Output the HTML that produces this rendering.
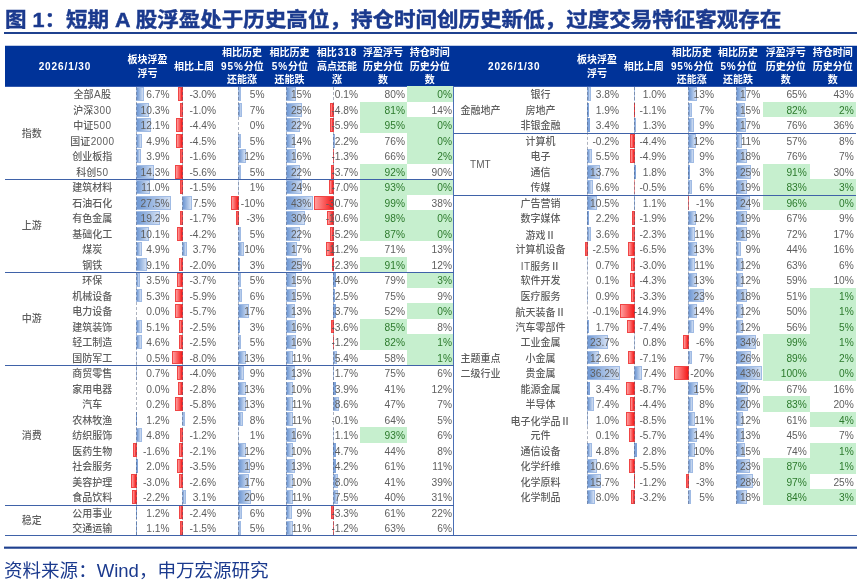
<!DOCTYPE html>
<html lang="zh-CN">
<head>
<meta charset="utf-8">
<title>图 1：短期 A 股浮盈处于历史高位</title>
<style>
html,body{margin:0;padding:0;background:#fff;}
body{width:864px;height:582px;position:relative;overflow:hidden;font-family:"Liberation Sans","Noto Sans CJK SC",sans-serif;}
#title{position:absolute;left:5px;top:4.9px;white-space:nowrap;font-size:20.2px;line-height:30px;font-weight:bold;color:#1b3a8e;-webkit-text-stroke:0.45px #1b3a8e;transform:scaleX(1.066);transform-origin:0 0;}
#tline{position:absolute;left:4px;top:32px;width:853.2px;height:1.8px;background:#1f418f;}
#hdr{position:absolute;left:5px;top:46px;width:852px;height:40px;background:#003399;border-bottom:1px solid #3359ad;border-top:1px solid #bfcce6;margin-top:-1px;}
.h{position:absolute;width:80px;text-align:center;color:#fff;font-weight:bold;font-size:10px;line-height:13.7px;white-space:nowrap;}
.h .d{letter-spacing:0.9px;margin-left:0.9px;}
.n .d{letter-spacing:0.35px;margin-left:0.35px;}
.n .r{font-family:"Noto Sans CJK SC",sans-serif;}
.v{position:absolute;width:60px;height:15.49px;line-height:17.7px;text-align:right;font-size:10.2px;color:#5e5e5e;white-space:nowrap;}
.gt{color:#2c7a2c;}
.n{position:absolute;width:80px;height:15.49px;line-height:17.5px;text-align:center;font-size:10px;color:#5e5e5e;white-space:nowrap;font-weight:500;}
.g{position:absolute;width:60px;text-align:center;font-size:10px;color:#5e5e5e;white-space:nowrap;font-weight:500;}
i{position:absolute;display:block;}
.bp{height:13.9px;box-sizing:border-box;border:1px solid #a0bbe4;background:linear-gradient(to right,#6f98d3,#d2dff3);}
.bn{height:13.9px;box-sizing:border-box;border:1px solid #f04545;background:linear-gradient(to left,#f51b1b,#ff9c9c);}
.bs{height:13.9px;background:#7fa3d9;}
.bt{height:13.9px;background:#f04040;}
.ax{width:0;border-left:1px dashed rgba(50,62,92,0.4);z-index:2;}
.gr{height:15.49px;background:#c6efce;}
.hl{height:1px;background:#3f62a8;z-index:3;}
#vl{position:absolute;left:453.2px;top:86px;width:1px;height:449.6px;background:#4a6fb5;}
#bl{position:absolute;left:4.5px;top:535.1px;width:852px;height:1px;background:#3f62a8;}
#fline{position:absolute;left:4px;top:546px;width:853px;height:3px;background:linear-gradient(to bottom,rgba(31,65,143,0.4) 0,rgba(31,65,143,0.4) 1px,#1f418f 1px,#1f418f 2px,rgba(31,65,143,0.75) 2px);}
#foot{position:absolute;left:4.2px;top:556.5px;white-space:nowrap;font-size:17.9px;line-height:28px;color:#1b3a8e;transform:scaleX(1.036);transform-origin:0 0;}
</style>
</head>
<body>
<div id="title">图 1：短期 A 股浮盈处于历史高位，持仓时间创历史新低，过度交易特征客观存在</div>
<div id="tline"></div>
<div id="hdr"></div>
<div class="h" style="left:24.5px;top:59.65px"><span class="d">2026/1/30</span></div>
<div class="h" style="left:107.5px;top:52.8px">板块浮盈<br>浮亏</div>
<div class="h" style="left:154px;top:59.65px">相比上周</div>
<div class="h" style="left:202px;top:45.95px">相比历史<br><span class="d">95%</span>分位<br>还能涨</div>
<div class="h" style="left:249.5px;top:45.95px">相比历史<br><span class="d">5%</span>分位<br>还能跌</div>
<div class="h" style="left:297px;top:45.95px">相比<span class="d">318</span><br>高点还能<br>涨</div>
<div class="h" style="left:343px;top:45.95px">浮盈浮亏<br>历史分位<br>数</div>
<div class="h" style="left:389.7px;top:45.95px">持仓时间<br>历史分位<br>数</div>
<div class="h" style="left:473.8px;top:59.65px"><span class="d">2026/1/30</span></div>
<div class="h" style="left:557px;top:52.8px">板块浮盈<br>浮亏</div>
<div class="h" style="left:603.8px;top:59.65px">相比上周</div>
<div class="h" style="left:651.8px;top:45.95px">相比历史<br><span class="d">95%</span>分位<br>还能涨</div>
<div class="h" style="left:698.1px;top:45.95px">相比历史<br><span class="d">5%</span>分位<br>还能跌</div>
<div class="h" style="left:745.8px;top:45.95px">浮盈浮亏<br>历史分位<br>数</div>
<div class="h" style="left:792.8px;top:45.95px">持仓时间<br>历史分位<br>数</div>
<i class="ax" style="left:136px;top:86.9px;height:448.21px"></i>
<i class="ax" style="left:182px;top:86.9px;height:448.21px"></i>
<i class="ax" style="left:238px;top:86.9px;height:448.21px"></i>
<i class="ax" style="left:286px;top:86.9px;height:448.21px"></i>
<i class="ax" style="left:333px;top:86.9px;height:448.21px"></i>
<div class="g" style="left:1.7px;top:87.5px;height:92.94px;line-height:92.94px">指数</div>
<div class="n" style="left:52.3px;top:86.4px">全部<span class="d">A</span>股</div>
<i class="gr" style="left:407px;top:86.4px;width:46.4px"></i>
<i class="bp" style="left:135.6px;top:87.2px;width:8.64px"></i>
<i class="bn" style="left:178.04px;top:87.2px;width:4.96px"></i>
<i class="bp" style="left:237.8px;top:87.2px;width:3.3px"></i>
<i class="bp" style="left:286.4px;top:87.2px;width:9.45px"></i>
<div class="v" style="left:109.5px;top:86.4px">6.7%</div>
<div class="v" style="left:156px;top:86.4px">-3.0%</div>
<div class="v" style="left:204.6px;top:86.4px">5%</div>
<div class="v" style="left:251.3px;top:86.4px">15%</div>
<div class="v" style="left:298px;top:86.4px">0.1%</div>
<div class="v" style="left:345px;top:86.4px">80%</div>
<div class="v gt" style="left:392px;top:86.4px">0%</div>
<div class="n" style="left:52.3px;top:101.89px">沪深<span class="d">300</span></div>
<i class="gr" style="left:360.2px;top:101.89px;width:46.8px"></i>
<i class="bp" style="left:135.6px;top:102.69px;width:13.29px"></i>
<i class="bn" style="left:180.48px;top:102.69px;width:2.52px"></i>
<i class="bp" style="left:237.8px;top:102.69px;width:4.62px"></i>
<i class="bp" style="left:286.4px;top:102.69px;width:15.75px"></i>
<i class="bn" style="left:330.38px;top:102.69px;width:3.62px"></i>
<div class="v" style="left:109.5px;top:101.89px">10.3%</div>
<div class="v" style="left:156px;top:101.89px">-1.0%</div>
<div class="v" style="left:204.6px;top:101.89px">7%</div>
<div class="v" style="left:251.3px;top:101.89px">25%</div>
<div class="v" style="left:298px;top:101.89px">-4.8%</div>
<div class="v gt" style="left:345px;top:101.89px">81%</div>
<div class="v" style="left:392px;top:101.89px">14%</div>
<div class="n" style="left:52.3px;top:117.38px">中证<span class="d">500</span></div>
<i class="gr" style="left:360.2px;top:117.38px;width:46.8px"></i>
<i class="gr" style="left:407px;top:117.38px;width:46.4px"></i>
<i class="bp" style="left:135.6px;top:118.18px;width:15.61px"></i>
<i class="bn" style="left:176.33px;top:118.18px;width:6.67px"></i>
<i class="bp" style="left:286.4px;top:118.18px;width:13.86px"></i>
<i class="bn" style="left:329.68px;top:118.18px;width:4.32px"></i>
<div class="v" style="left:109.5px;top:117.38px">12.1%</div>
<div class="v" style="left:156px;top:117.38px">-4.4%</div>
<div class="v" style="left:204.6px;top:117.38px">0%</div>
<div class="v" style="left:251.3px;top:117.38px">22%</div>
<div class="v" style="left:298px;top:117.38px">-5.9%</div>
<div class="v gt" style="left:345px;top:117.38px">95%</div>
<div class="v gt" style="left:392px;top:117.38px">0%</div>
<div class="n" style="left:52.3px;top:132.87px">国证<span class="d">2000</span></div>
<i class="gr" style="left:407px;top:132.87px;width:46.4px"></i>
<i class="bp" style="left:135.6px;top:133.67px;width:6.32px"></i>
<i class="bn" style="left:176.21px;top:133.67px;width:6.79px"></i>
<i class="bp" style="left:237.8px;top:133.67px;width:3.3px"></i>
<i class="bp" style="left:286.4px;top:133.67px;width:8.82px"></i>
<i class="bs" style="left:333.4px;top:133.67px;width:1.36px;opacity:0.85"></i>
<div class="v" style="left:109.5px;top:132.87px">4.9%</div>
<div class="v" style="left:156px;top:132.87px">-4.5%</div>
<div class="v" style="left:204.6px;top:132.87px">5%</div>
<div class="v" style="left:251.3px;top:132.87px">14%</div>
<div class="v" style="left:298px;top:132.87px">2.2%</div>
<div class="v" style="left:345px;top:132.87px">76%</div>
<div class="v gt" style="left:392px;top:132.87px">0%</div>
<div class="n" style="left:52.3px;top:148.36px">创业板指</div>
<i class="gr" style="left:407px;top:148.36px;width:46.4px"></i>
<i class="bp" style="left:135.6px;top:149.16px;width:5.03px"></i>
<i class="bn" style="left:179.75px;top:149.16px;width:3.25px"></i>
<i class="bp" style="left:237.8px;top:149.16px;width:7.92px"></i>
<i class="bp" style="left:286.4px;top:149.16px;width:10.08px"></i>
<i class="bt" style="left:333px;top:149.16px;width:1px;opacity:0.83"></i>
<div class="v" style="left:109.5px;top:148.36px">3.9%</div>
<div class="v" style="left:156px;top:148.36px">-1.6%</div>
<div class="v" style="left:204.6px;top:148.36px">12%</div>
<div class="v" style="left:251.3px;top:148.36px">16%</div>
<div class="v" style="left:298px;top:148.36px">-1.3%</div>
<div class="v" style="left:345px;top:148.36px">66%</div>
<div class="v gt" style="left:392px;top:148.36px">2%</div>
<div class="n" style="left:52.3px;top:163.85px">科创<span class="d">50</span></div>
<i class="gr" style="left:360.2px;top:163.85px;width:46.8px"></i>
<i class="bp" style="left:135.6px;top:164.65px;width:18.45px"></i>
<i class="bn" style="left:174.87px;top:164.65px;width:8.13px"></i>
<i class="bp" style="left:237.8px;top:164.65px;width:3.3px"></i>
<i class="bp" style="left:286.4px;top:164.65px;width:13.86px"></i>
<i class="bn" style="left:331.07px;top:164.65px;width:2.93px"></i>
<div class="v" style="left:109.5px;top:163.85px">14.3%</div>
<div class="v" style="left:156px;top:163.85px">-5.6%</div>
<div class="v" style="left:204.6px;top:163.85px">5%</div>
<div class="v" style="left:251.3px;top:163.85px">22%</div>
<div class="v" style="left:298px;top:163.85px">-3.7%</div>
<div class="v gt" style="left:345px;top:163.85px">92%</div>
<div class="v" style="left:392px;top:163.85px">90%</div>
<i class="hl" style="left:4.5px;top:179.34px;width:449.2px"></i>
<div class="g" style="left:1.7px;top:180.44px;height:92.94px;line-height:92.94px">上游</div>
<div class="n" style="left:52.3px;top:179.34px">建筑材料</div>
<i class="gr" style="left:360.2px;top:179.34px;width:46.8px"></i>
<i class="gr" style="left:407px;top:179.34px;width:46.4px"></i>
<i class="bp" style="left:135.6px;top:180.14px;width:14.19px"></i>
<i class="bn" style="left:179.87px;top:180.14px;width:3.13px"></i>
<i class="bs" style="left:237.8px;top:180.14px;width:1px;opacity:0.41"></i>
<i class="bp" style="left:286.4px;top:180.14px;width:15.12px"></i>
<i class="bn" style="left:328.99px;top:180.14px;width:5.01px"></i>
<div class="v" style="left:109.5px;top:179.34px">11.0%</div>
<div class="v" style="left:156px;top:179.34px">-1.5%</div>
<div class="v" style="left:204.6px;top:179.34px">1%</div>
<div class="v" style="left:251.3px;top:179.34px">24%</div>
<div class="v" style="left:298px;top:179.34px">-7.0%</div>
<div class="v gt" style="left:345px;top:179.34px">93%</div>
<div class="v gt" style="left:392px;top:179.34px">0%</div>
<div class="n" style="left:52.3px;top:194.83px">石油石化</div>
<i class="gr" style="left:360.2px;top:194.83px;width:46.8px"></i>
<i class="bp" style="left:135.6px;top:195.63px;width:35.48px"></i>
<i class="bp" style="left:181.7px;top:195.63px;width:10.5px"></i>
<i class="bn" style="left:231px;top:195.63px;width:8px"></i>
<i class="bp" style="left:286.4px;top:195.63px;width:27.09px"></i>
<i class="bn" style="left:314.06px;top:195.63px;width:19.94px"></i>
<div class="v" style="left:109.5px;top:194.83px">27.5%</div>
<div class="v" style="left:156px;top:194.83px">7.5%</div>
<div class="v" style="left:204.6px;top:194.83px">-10%</div>
<div class="v" style="left:251.3px;top:194.83px">43%</div>
<div class="v" style="left:298px;top:194.83px">-30.7%</div>
<div class="v gt" style="left:345px;top:194.83px">99%</div>
<div class="v" style="left:392px;top:194.83px">38%</div>
<div class="n" style="left:52.3px;top:210.32px">有色金属</div>
<i class="gr" style="left:360.2px;top:210.32px;width:46.8px"></i>
<i class="gr" style="left:407px;top:210.32px;width:46.4px"></i>
<i class="bp" style="left:135.6px;top:211.12px;width:24.77px"></i>
<i class="bn" style="left:179.63px;top:211.12px;width:3.37px"></i>
<i class="bn" style="left:235.76px;top:211.12px;width:3.24px"></i>
<i class="bp" style="left:286.4px;top:211.12px;width:18.9px"></i>
<i class="bn" style="left:326.72px;top:211.12px;width:7.28px"></i>
<div class="v" style="left:109.5px;top:210.32px">19.2%</div>
<div class="v" style="left:156px;top:210.32px">-1.7%</div>
<div class="v" style="left:204.6px;top:210.32px">-3%</div>
<div class="v" style="left:251.3px;top:210.32px">30%</div>
<div class="v" style="left:298px;top:210.32px">-10.6%</div>
<div class="v gt" style="left:345px;top:210.32px">98%</div>
<div class="v gt" style="left:392px;top:210.32px">0%</div>
<div class="n" style="left:52.3px;top:225.81px">基础化工</div>
<i class="gr" style="left:360.2px;top:225.81px;width:46.8px"></i>
<i class="gr" style="left:407px;top:225.81px;width:46.4px"></i>
<i class="bp" style="left:135.6px;top:226.61px;width:13.03px"></i>
<i class="bn" style="left:176.58px;top:226.61px;width:6.42px"></i>
<i class="bp" style="left:237.8px;top:226.61px;width:3.3px"></i>
<i class="bp" style="left:286.4px;top:226.61px;width:13.86px"></i>
<i class="bn" style="left:330.12px;top:226.61px;width:3.88px"></i>
<div class="v" style="left:109.5px;top:225.81px">10.1%</div>
<div class="v" style="left:156px;top:225.81px">-4.2%</div>
<div class="v" style="left:204.6px;top:225.81px">5%</div>
<div class="v" style="left:251.3px;top:225.81px">22%</div>
<div class="v" style="left:298px;top:225.81px">-5.2%</div>
<div class="v gt" style="left:345px;top:225.81px">87%</div>
<div class="v gt" style="left:392px;top:225.81px">0%</div>
<div class="n" style="left:52.3px;top:241.3px">煤炭</div>
<i class="bp" style="left:135.6px;top:242.1px;width:6.32px"></i>
<i class="bp" style="left:181.7px;top:242.1px;width:5.18px"></i>
<i class="bp" style="left:237.8px;top:242.1px;width:6.6px"></i>
<i class="bp" style="left:286.4px;top:242.1px;width:10.71px"></i>
<i class="bn" style="left:326.34px;top:242.1px;width:7.66px"></i>
<div class="v" style="left:109.5px;top:241.3px">4.9%</div>
<div class="v" style="left:156px;top:241.3px">3.7%</div>
<div class="v" style="left:204.6px;top:241.3px">10%</div>
<div class="v" style="left:251.3px;top:241.3px">17%</div>
<div class="v" style="left:298px;top:241.3px">-11.2%</div>
<div class="v" style="left:345px;top:241.3px">71%</div>
<div class="v" style="left:392px;top:241.3px">13%</div>
<div class="n" style="left:52.3px;top:256.79px">钢铁</div>
<i class="gr" style="left:360.2px;top:256.79px;width:46.8px"></i>
<i class="bp" style="left:135.6px;top:257.59px;width:11.74px"></i>
<i class="bn" style="left:179.26px;top:257.59px;width:3.74px"></i>
<i class="bs" style="left:237.8px;top:257.59px;width:1.98px;opacity:1.00"></i>
<i class="bp" style="left:286.4px;top:257.59px;width:15.75px"></i>
<i class="bn" style="left:331.95px;top:257.59px;width:2.05px"></i>
<div class="v" style="left:109.5px;top:256.79px">9.1%</div>
<div class="v" style="left:156px;top:256.79px">-2.0%</div>
<div class="v" style="left:204.6px;top:256.79px">3%</div>
<div class="v" style="left:251.3px;top:256.79px">25%</div>
<div class="v" style="left:298px;top:256.79px">-2.3%</div>
<div class="v gt" style="left:345px;top:256.79px">91%</div>
<div class="v" style="left:392px;top:256.79px">12%</div>
<i class="hl" style="left:4.5px;top:272.28px;width:449.2px"></i>
<div class="g" style="left:1.7px;top:273.38px;height:92.94px;line-height:92.94px">中游</div>
<div class="n" style="left:52.3px;top:272.28px">环保</div>
<i class="gr" style="left:407px;top:272.28px;width:46.4px"></i>
<i class="bp" style="left:135.6px;top:273.08px;width:4.52px"></i>
<i class="bn" style="left:177.19px;top:273.08px;width:5.81px"></i>
<i class="bp" style="left:237.8px;top:273.08px;width:3.3px"></i>
<i class="bp" style="left:286.4px;top:273.08px;width:9.45px"></i>
<i class="bs" style="left:333.4px;top:273.08px;width:2.48px;opacity:1.00"></i>
<div class="v" style="left:109.5px;top:272.28px">3.5%</div>
<div class="v" style="left:156px;top:272.28px">-3.7%</div>
<div class="v" style="left:204.6px;top:272.28px">5%</div>
<div class="v" style="left:251.3px;top:272.28px">15%</div>
<div class="v" style="left:298px;top:272.28px">4.0%</div>
<div class="v" style="left:345px;top:272.28px">79%</div>
<div class="v gt" style="left:392px;top:272.28px">3%</div>
<div class="n" style="left:52.3px;top:287.77px">机械设备</div>
<i class="bp" style="left:135.6px;top:288.57px;width:6.84px"></i>
<i class="bn" style="left:174.5px;top:288.57px;width:8.5px"></i>
<i class="bp" style="left:237.8px;top:288.57px;width:3.96px"></i>
<i class="bp" style="left:286.4px;top:288.57px;width:9.45px"></i>
<i class="bs" style="left:333.4px;top:288.57px;width:1.55px;opacity:0.97"></i>
<div class="v" style="left:109.5px;top:287.77px">5.3%</div>
<div class="v" style="left:156px;top:287.77px">-5.9%</div>
<div class="v" style="left:204.6px;top:287.77px">6%</div>
<div class="v" style="left:251.3px;top:287.77px">15%</div>
<div class="v" style="left:298px;top:287.77px">2.5%</div>
<div class="v" style="left:345px;top:287.77px">75%</div>
<div class="v" style="left:392px;top:287.77px">9%</div>
<div class="n" style="left:52.3px;top:303.26px">电力设备</div>
<i class="gr" style="left:407px;top:303.26px;width:46.4px"></i>
<i class="bn" style="left:174.75px;top:304.06px;width:8.25px"></i>
<i class="bp" style="left:237.8px;top:304.06px;width:11.22px"></i>
<i class="bp" style="left:286.4px;top:304.06px;width:8.19px"></i>
<i class="bs" style="left:333.4px;top:304.06px;width:2.29px;opacity:1.00"></i>
<div class="v" style="left:109.5px;top:303.26px">0.0%</div>
<div class="v" style="left:156px;top:303.26px">-5.7%</div>
<div class="v" style="left:204.6px;top:303.26px">17%</div>
<div class="v" style="left:251.3px;top:303.26px">13%</div>
<div class="v" style="left:298px;top:303.26px">3.7%</div>
<div class="v" style="left:345px;top:303.26px">52%</div>
<div class="v gt" style="left:392px;top:303.26px">0%</div>
<div class="n" style="left:52.3px;top:318.75px">建筑装饰</div>
<i class="gr" style="left:360.2px;top:318.75px;width:46.8px"></i>
<i class="bp" style="left:135.6px;top:319.55px;width:6.58px"></i>
<i class="bn" style="left:178.65px;top:319.55px;width:4.35px"></i>
<i class="bs" style="left:237.8px;top:319.55px;width:1.98px;opacity:1.00"></i>
<i class="bp" style="left:286.4px;top:319.55px;width:10.08px"></i>
<i class="bn" style="left:331.13px;top:319.55px;width:2.87px"></i>
<div class="v" style="left:109.5px;top:318.75px">5.1%</div>
<div class="v" style="left:156px;top:318.75px">-2.5%</div>
<div class="v" style="left:204.6px;top:318.75px">3%</div>
<div class="v" style="left:251.3px;top:318.75px">16%</div>
<div class="v" style="left:298px;top:318.75px">-3.6%</div>
<div class="v gt" style="left:345px;top:318.75px">85%</div>
<div class="v" style="left:392px;top:318.75px">8%</div>
<div class="n" style="left:52.3px;top:334.24px">轻工制造</div>
<i class="gr" style="left:360.2px;top:334.24px;width:46.8px"></i>
<i class="gr" style="left:407px;top:334.24px;width:46.4px"></i>
<i class="bp" style="left:135.6px;top:335.04px;width:5.93px"></i>
<i class="bn" style="left:178.65px;top:335.04px;width:4.35px"></i>
<i class="bp" style="left:237.8px;top:335.04px;width:3.3px"></i>
<i class="bp" style="left:286.4px;top:335.04px;width:10.08px"></i>
<i class="bt" style="left:333px;top:335.04px;width:1px;opacity:0.78"></i>
<div class="v" style="left:109.5px;top:334.24px">4.6%</div>
<div class="v" style="left:156px;top:334.24px">-2.5%</div>
<div class="v" style="left:204.6px;top:334.24px">5%</div>
<div class="v" style="left:251.3px;top:334.24px">16%</div>
<div class="v" style="left:298px;top:334.24px">-1.2%</div>
<div class="v gt" style="left:345px;top:334.24px">82%</div>
<div class="v gt" style="left:392px;top:334.24px">1%</div>
<div class="n" style="left:52.3px;top:349.73px">国防军工</div>
<i class="gr" style="left:407px;top:349.73px;width:46.4px"></i>
<i class="bs" style="left:135.6px;top:350.53px;width:1px;opacity:0.40"></i>
<i class="bn" style="left:171.94px;top:350.53px;width:11.06px"></i>
<i class="bp" style="left:237.8px;top:350.53px;width:8.58px"></i>
<i class="bp" style="left:286.4px;top:350.53px;width:6.93px"></i>
<i class="bp" style="left:333.4px;top:350.53px;width:3.35px"></i>
<div class="v" style="left:109.5px;top:349.73px">0.5%</div>
<div class="v" style="left:156px;top:349.73px">-8.0%</div>
<div class="v" style="left:204.6px;top:349.73px">13%</div>
<div class="v" style="left:251.3px;top:349.73px">11%</div>
<div class="v" style="left:298px;top:349.73px">5.4%</div>
<div class="v" style="left:345px;top:349.73px">58%</div>
<div class="v gt" style="left:392px;top:349.73px">1%</div>
<i class="hl" style="left:4.5px;top:365.22px;width:449.2px"></i>
<div class="g" style="left:1.7px;top:366.32px;height:139.41px;line-height:139.41px">消费</div>
<div class="n" style="left:52.3px;top:365.22px">商贸零售</div>
<i class="bs" style="left:135.6px;top:366.02px;width:1px;opacity:0.56"></i>
<i class="bn" style="left:176.82px;top:366.02px;width:6.18px"></i>
<i class="bp" style="left:237.8px;top:366.02px;width:5.94px"></i>
<i class="bp" style="left:286.4px;top:366.02px;width:8.19px"></i>
<i class="bs" style="left:333.4px;top:366.02px;width:1.05px;opacity:0.66"></i>
<div class="v" style="left:109.5px;top:365.22px">0.7%</div>
<div class="v" style="left:156px;top:365.22px">-4.0%</div>
<div class="v" style="left:204.6px;top:365.22px">9%</div>
<div class="v" style="left:251.3px;top:365.22px">13%</div>
<div class="v" style="left:298px;top:365.22px">1.7%</div>
<div class="v" style="left:345px;top:365.22px">75%</div>
<div class="v" style="left:392px;top:365.22px">6%</div>
<div class="n" style="left:52.3px;top:380.71px">家用电器</div>
<i class="bn" style="left:178.28px;top:381.51px;width:4.72px"></i>
<i class="bp" style="left:237.8px;top:381.51px;width:8.58px"></i>
<i class="bp" style="left:286.4px;top:381.51px;width:6.3px"></i>
<i class="bs" style="left:333.4px;top:381.51px;width:2.42px;opacity:1.00"></i>
<div class="v" style="left:109.5px;top:380.71px">0.0%</div>
<div class="v" style="left:156px;top:380.71px">-2.8%</div>
<div class="v" style="left:204.6px;top:380.71px">13%</div>
<div class="v" style="left:251.3px;top:380.71px">10%</div>
<div class="v" style="left:298px;top:380.71px">3.9%</div>
<div class="v" style="left:345px;top:380.71px">41%</div>
<div class="v" style="left:392px;top:380.71px">12%</div>
<div class="n" style="left:52.3px;top:396.2px">汽车</div>
<i class="bn" style="left:174.62px;top:397px;width:8.38px"></i>
<i class="bp" style="left:237.8px;top:397px;width:8.58px"></i>
<i class="bp" style="left:286.4px;top:397px;width:6.93px"></i>
<i class="bp" style="left:333.4px;top:397px;width:5.33px"></i>
<div class="v" style="left:109.5px;top:396.2px">0.2%</div>
<div class="v" style="left:156px;top:396.2px">-5.8%</div>
<div class="v" style="left:204.6px;top:396.2px">13%</div>
<div class="v" style="left:251.3px;top:396.2px">11%</div>
<div class="v" style="left:298px;top:396.2px">8.6%</div>
<div class="v" style="left:345px;top:396.2px">47%</div>
<div class="v" style="left:392px;top:396.2px">7%</div>
<div class="n" style="left:52.3px;top:411.69px">农林牧渔</div>
<i class="bs" style="left:135.6px;top:412.49px;width:1.55px;opacity:0.97"></i>
<i class="bp" style="left:181.7px;top:412.49px;width:3.5px"></i>
<i class="bp" style="left:237.8px;top:412.49px;width:5.28px"></i>
<i class="bp" style="left:286.4px;top:412.49px;width:6.93px"></i>
<div class="v" style="left:109.5px;top:411.69px">1.2%</div>
<div class="v" style="left:156px;top:411.69px">2.5%</div>
<div class="v" style="left:204.6px;top:411.69px">8%</div>
<div class="v" style="left:251.3px;top:411.69px">11%</div>
<div class="v" style="left:298px;top:411.69px">-0.1%</div>
<div class="v" style="left:345px;top:411.69px">64%</div>
<div class="v" style="left:392px;top:411.69px">5%</div>
<div class="n" style="left:52.3px;top:427.18px">纺织服饰</div>
<i class="gr" style="left:360.2px;top:427.18px;width:46.8px"></i>
<i class="bp" style="left:135.6px;top:427.98px;width:6.19px"></i>
<i class="bn" style="left:180.24px;top:427.98px;width:2.76px"></i>
<i class="bs" style="left:237.8px;top:427.98px;width:1px;opacity:0.41"></i>
<i class="bp" style="left:286.4px;top:427.98px;width:10.08px"></i>
<i class="bs" style="left:333.4px;top:427.98px;width:1px;opacity:0.43"></i>
<div class="v" style="left:109.5px;top:427.18px">4.8%</div>
<div class="v" style="left:156px;top:427.18px">-1.2%</div>
<div class="v" style="left:204.6px;top:427.18px">1%</div>
<div class="v" style="left:251.3px;top:427.18px">16%</div>
<div class="v" style="left:298px;top:427.18px">1.1%</div>
<div class="v gt" style="left:345px;top:427.18px">93%</div>
<div class="v" style="left:392px;top:427.18px">6%</div>
<div class="n" style="left:52.3px;top:442.67px">医药生物</div>
<i class="bn" style="left:132.88px;top:443.47px;width:4.12px"></i>
<i class="bn" style="left:179.14px;top:443.47px;width:3.86px"></i>
<i class="bp" style="left:237.8px;top:443.47px;width:7.92px"></i>
<i class="bp" style="left:286.4px;top:443.47px;width:6.3px"></i>
<i class="bs" style="left:333.4px;top:443.47px;width:2.91px;opacity:1.00"></i>
<div class="v" style="left:109.5px;top:442.67px">-1.6%</div>
<div class="v" style="left:156px;top:442.67px">-2.1%</div>
<div class="v" style="left:204.6px;top:442.67px">12%</div>
<div class="v" style="left:251.3px;top:442.67px">10%</div>
<div class="v" style="left:298px;top:442.67px">4.7%</div>
<div class="v" style="left:345px;top:442.67px">44%</div>
<div class="v" style="left:392px;top:442.67px">8%</div>
<div class="n" style="left:52.3px;top:458.16px">社会服务</div>
<i class="bs" style="left:135.6px;top:458.96px;width:2.58px;opacity:1.00"></i>
<i class="bn" style="left:177.43px;top:458.96px;width:5.57px"></i>
<i class="bp" style="left:237.8px;top:458.96px;width:12.54px"></i>
<i class="bp" style="left:286.4px;top:458.96px;width:8.19px"></i>
<i class="bs" style="left:333.4px;top:458.96px;width:2.6px;opacity:1.00"></i>
<div class="v" style="left:109.5px;top:458.16px">2.0%</div>
<div class="v" style="left:156px;top:458.16px">-3.5%</div>
<div class="v" style="left:204.6px;top:458.16px">19%</div>
<div class="v" style="left:251.3px;top:458.16px">13%</div>
<div class="v" style="left:298px;top:458.16px">4.2%</div>
<div class="v" style="left:345px;top:458.16px">61%</div>
<div class="v" style="left:392px;top:458.16px">11%</div>
<div class="n" style="left:52.3px;top:473.65px">美容护理</div>
<i class="bn" style="left:130.5px;top:474.45px;width:6.5px"></i>
<i class="bn" style="left:178.53px;top:474.45px;width:4.47px"></i>
<i class="bp" style="left:237.8px;top:474.45px;width:11.22px"></i>
<i class="bp" style="left:286.4px;top:474.45px;width:6.3px"></i>
<i class="bp" style="left:333.4px;top:474.45px;width:4.96px"></i>
<div class="v" style="left:109.5px;top:473.65px">-3.0%</div>
<div class="v" style="left:156px;top:473.65px">-2.6%</div>
<div class="v" style="left:204.6px;top:473.65px">17%</div>
<div class="v" style="left:251.3px;top:473.65px">10%</div>
<div class="v" style="left:298px;top:473.65px">8.0%</div>
<div class="v" style="left:345px;top:473.65px">41%</div>
<div class="v" style="left:392px;top:473.65px">39%</div>
<div class="n" style="left:52.3px;top:489.14px">食品饮料</div>
<i class="bn" style="left:131.86px;top:489.94px;width:5.14px"></i>
<i class="bp" style="left:181.7px;top:489.94px;width:4.34px"></i>
<i class="bp" style="left:237.8px;top:489.94px;width:13.2px"></i>
<i class="bp" style="left:286.4px;top:489.94px;width:6.93px"></i>
<i class="bp" style="left:333.4px;top:489.94px;width:4.65px"></i>
<div class="v" style="left:109.5px;top:489.14px">-2.2%</div>
<div class="v" style="left:156px;top:489.14px">3.1%</div>
<div class="v" style="left:204.6px;top:489.14px">20%</div>
<div class="v" style="left:251.3px;top:489.14px">11%</div>
<div class="v" style="left:298px;top:489.14px">7.5%</div>
<div class="v" style="left:345px;top:489.14px">40%</div>
<div class="v" style="left:392px;top:489.14px">31%</div>
<i class="hl" style="left:4.5px;top:504.63px;width:449.2px"></i>
<div class="g" style="left:1.7px;top:505.73px;height:30.98px;line-height:30.98px">稳定</div>
<div class="n" style="left:52.3px;top:504.63px">公用事业</div>
<i class="bs" style="left:135.6px;top:505.43px;width:1.55px;opacity:0.97"></i>
<i class="bn" style="left:178.77px;top:505.43px;width:4.23px"></i>
<i class="bp" style="left:237.8px;top:505.43px;width:3.96px"></i>
<i class="bp" style="left:286.4px;top:505.43px;width:5.67px"></i>
<i class="bn" style="left:331.32px;top:505.43px;width:2.68px"></i>
<div class="v" style="left:109.5px;top:504.63px">1.2%</div>
<div class="v" style="left:156px;top:504.63px">-2.4%</div>
<div class="v" style="left:204.6px;top:504.63px">6%</div>
<div class="v" style="left:251.3px;top:504.63px">9%</div>
<div class="v" style="left:298px;top:504.63px">-3.3%</div>
<div class="v" style="left:345px;top:504.63px">61%</div>
<div class="v" style="left:392px;top:504.63px">22%</div>
<div class="n" style="left:52.3px;top:520.12px">交通运输</div>
<i class="bs" style="left:135.6px;top:520.92px;width:1.42px;opacity:0.89"></i>
<i class="bn" style="left:179.87px;top:520.92px;width:3.13px"></i>
<i class="bp" style="left:237.8px;top:520.92px;width:3.3px"></i>
<i class="bp" style="left:286.4px;top:520.92px;width:6.93px"></i>
<i class="bt" style="left:333px;top:520.92px;width:1px;opacity:0.78"></i>
<div class="v" style="left:109.5px;top:520.12px">1.1%</div>
<div class="v" style="left:156px;top:520.12px">-1.5%</div>
<div class="v" style="left:204.6px;top:520.12px">5%</div>
<div class="v" style="left:251.3px;top:520.12px">11%</div>
<div class="v" style="left:298px;top:520.12px">-1.2%</div>
<div class="v" style="left:345px;top:520.12px">63%</div>
<div class="v" style="left:392px;top:520.12px">6%</div>
<i class="ax" style="left:587px;top:86.9px;height:417.23px"></i>
<i class="ax" style="left:634px;top:86.9px;height:417.23px"></i>
<i class="ax" style="left:688px;top:86.9px;height:417.23px"></i>
<i class="ax" style="left:736px;top:86.9px;height:417.23px"></i>
<div class="g" style="left:450.4px;top:87.5px;height:46.47px;line-height:46.47px">金融地产</div>
<div class="n" style="left:500.4px;top:86.4px">银行</div>
<i class="bp" style="left:587.4px;top:87.2px;width:3.38px"></i>
<i class="bs" style="left:634.2px;top:87.2px;width:1.04px;opacity:0.65"></i>
<i class="bp" style="left:687.6px;top:87.2px;width:9.1px"></i>
<i class="bp" style="left:735.9px;top:87.2px;width:10.2px"></i>
<div class="v" style="left:559px;top:86.4px">3.8%</div>
<div class="v" style="left:606px;top:86.4px">1.0%</div>
<div class="v" style="left:654px;top:86.4px">13%</div>
<div class="v" style="left:700.3px;top:86.4px">17%</div>
<div class="v" style="left:746.8px;top:86.4px">65%</div>
<div class="v" style="left:793.8px;top:86.4px">43%</div>
<div class="n" style="left:500.4px;top:101.89px">房地产</div>
<i class="gr" style="left:762.6px;top:101.89px;width:47px"></i>
<i class="gr" style="left:809.6px;top:101.89px;width:46.8px"></i>
<i class="bs" style="left:587.4px;top:102.69px;width:1.69px;opacity:1.00"></i>
<i class="bt" style="left:634px;top:102.69px;width:1px;opacity:1.00"></i>
<i class="bp" style="left:687.6px;top:102.69px;width:4.9px"></i>
<i class="bp" style="left:735.9px;top:102.69px;width:9px"></i>
<div class="v" style="left:559px;top:101.89px">1.9%</div>
<div class="v" style="left:606px;top:101.89px">-1.1%</div>
<div class="v" style="left:654px;top:101.89px">7%</div>
<div class="v" style="left:700.3px;top:101.89px">15%</div>
<div class="v gt" style="left:746.8px;top:101.89px">82%</div>
<div class="v gt" style="left:793.8px;top:101.89px">2%</div>
<div class="n" style="left:500.4px;top:117.38px">非银金融</div>
<i class="bs" style="left:587.4px;top:118.18px;width:3.03px;opacity:1.00"></i>
<i class="bs" style="left:634.2px;top:118.18px;width:1.35px;opacity:0.84"></i>
<i class="bp" style="left:687.6px;top:118.18px;width:6.3px"></i>
<i class="bp" style="left:735.9px;top:118.18px;width:10.2px"></i>
<div class="v" style="left:559px;top:117.38px">3.4%</div>
<div class="v" style="left:606px;top:117.38px">1.3%</div>
<div class="v" style="left:654px;top:117.38px">9%</div>
<div class="v" style="left:700.3px;top:117.38px">17%</div>
<div class="v" style="left:746.8px;top:117.38px">76%</div>
<div class="v" style="left:793.8px;top:117.38px">36%</div>
<i class="hl" style="left:453.7px;top:132.87px;width:402.7px"></i>
<div class="g" style="left:450.4px;top:133.97px;height:61.96px;line-height:61.96px">TMT</div>
<div class="n" style="left:500.4px;top:132.87px">计算机</div>
<i class="bn" style="left:630.11px;top:133.67px;width:4.89px"></i>
<i class="bp" style="left:687.6px;top:133.67px;width:8.4px"></i>
<i class="bp" style="left:735.9px;top:133.67px;width:6.6px"></i>
<div class="v" style="left:559px;top:132.87px">-0.2%</div>
<div class="v" style="left:606px;top:132.87px">-4.4%</div>
<div class="v" style="left:654px;top:132.87px">12%</div>
<div class="v" style="left:700.3px;top:132.87px">11%</div>
<div class="v" style="left:746.8px;top:132.87px">57%</div>
<div class="v" style="left:793.8px;top:132.87px">8%</div>
<div class="n" style="left:500.4px;top:148.36px">电子</div>
<i class="bp" style="left:587.4px;top:149.16px;width:4.9px"></i>
<i class="bn" style="left:629.64px;top:149.16px;width:5.36px"></i>
<i class="bp" style="left:687.6px;top:149.16px;width:6.3px"></i>
<i class="bp" style="left:735.9px;top:149.16px;width:10.8px"></i>
<div class="v" style="left:559px;top:148.36px">5.5%</div>
<div class="v" style="left:606px;top:148.36px">-4.9%</div>
<div class="v" style="left:654px;top:148.36px">9%</div>
<div class="v" style="left:700.3px;top:148.36px">18%</div>
<div class="v" style="left:746.8px;top:148.36px">76%</div>
<div class="v" style="left:793.8px;top:148.36px">7%</div>
<div class="n" style="left:500.4px;top:163.85px">通信</div>
<i class="gr" style="left:762.6px;top:163.85px;width:47px"></i>
<i class="bp" style="left:587.4px;top:164.65px;width:12.19px"></i>
<i class="bs" style="left:634.2px;top:164.65px;width:1.87px;opacity:1.00"></i>
<i class="bs" style="left:687.6px;top:164.65px;width:2.1px;opacity:1.00"></i>
<i class="bp" style="left:735.9px;top:164.65px;width:15px"></i>
<div class="v" style="left:559px;top:163.85px">13.7%</div>
<div class="v" style="left:606px;top:163.85px">1.8%</div>
<div class="v" style="left:654px;top:163.85px">3%</div>
<div class="v" style="left:700.3px;top:163.85px">25%</div>
<div class="v gt" style="left:746.8px;top:163.85px">91%</div>
<div class="v" style="left:793.8px;top:163.85px">30%</div>
<div class="n" style="left:500.4px;top:179.34px">传媒</div>
<i class="gr" style="left:762.6px;top:179.34px;width:47px"></i>
<i class="gr" style="left:809.6px;top:179.34px;width:46.8px"></i>
<i class="bp" style="left:587.4px;top:180.14px;width:5.87px"></i>
<i class="bt" style="left:634px;top:180.14px;width:1px;opacity:0.54"></i>
<i class="bp" style="left:687.6px;top:180.14px;width:4.2px"></i>
<i class="bp" style="left:735.9px;top:180.14px;width:11.4px"></i>
<div class="v" style="left:559px;top:179.34px">6.6%</div>
<div class="v" style="left:606px;top:179.34px">-0.5%</div>
<div class="v" style="left:654px;top:179.34px">6%</div>
<div class="v" style="left:700.3px;top:179.34px">19%</div>
<div class="v gt" style="left:746.8px;top:179.34px">83%</div>
<div class="v gt" style="left:793.8px;top:179.34px">3%</div>
<i class="hl" style="left:453.7px;top:194.83px;width:402.7px"></i>
<div class="n" style="left:500.4px;top:194.83px">广告营销</div>
<i class="gr" style="left:762.6px;top:194.83px;width:47px"></i>
<i class="gr" style="left:809.6px;top:194.83px;width:46.8px"></i>
<i class="bp" style="left:587.4px;top:195.63px;width:9.35px"></i>
<i class="bs" style="left:634.2px;top:195.63px;width:1.14px;opacity:0.72"></i>
<i class="bt" style="left:688px;top:195.63px;width:1px;opacity:0.73"></i>
<i class="bp" style="left:735.9px;top:195.63px;width:14.4px"></i>
<div class="v" style="left:559px;top:194.83px">10.5%</div>
<div class="v" style="left:606px;top:194.83px">1.1%</div>
<div class="v" style="left:654px;top:194.83px">-1%</div>
<div class="v" style="left:700.3px;top:194.83px">24%</div>
<div class="v gt" style="left:746.8px;top:194.83px">96%</div>
<div class="v gt" style="left:793.8px;top:194.83px">0%</div>
<div class="n" style="left:500.4px;top:210.32px">数字媒体</div>
<i class="bs" style="left:587.4px;top:211.12px;width:1.96px;opacity:1.00"></i>
<i class="bn" style="left:632.43px;top:211.12px;width:2.57px"></i>
<i class="bp" style="left:687.6px;top:211.12px;width:8.4px"></i>
<i class="bp" style="left:735.9px;top:211.12px;width:11.4px"></i>
<div class="v" style="left:559px;top:210.32px">2.2%</div>
<div class="v" style="left:606px;top:210.32px">-1.9%</div>
<div class="v" style="left:654px;top:210.32px">12%</div>
<div class="v" style="left:700.3px;top:210.32px">19%</div>
<div class="v" style="left:746.8px;top:210.32px">67%</div>
<div class="v" style="left:793.8px;top:210.32px">9%</div>
<div class="n" style="left:500.4px;top:225.81px">游戏<span class="r">Ⅱ</span></div>
<i class="bp" style="left:587.4px;top:226.61px;width:3.2px"></i>
<i class="bn" style="left:632.06px;top:226.61px;width:2.94px"></i>
<i class="bp" style="left:687.6px;top:226.61px;width:7.7px"></i>
<i class="bp" style="left:735.9px;top:226.61px;width:10.8px"></i>
<div class="v" style="left:559px;top:225.81px">3.6%</div>
<div class="v" style="left:606px;top:225.81px">-2.3%</div>
<div class="v" style="left:654px;top:225.81px">11%</div>
<div class="v" style="left:700.3px;top:225.81px">18%</div>
<div class="v" style="left:746.8px;top:225.81px">72%</div>
<div class="v" style="left:793.8px;top:225.81px">17%</div>
<div class="n" style="left:500.4px;top:241.3px">计算机设备</div>
<i class="bn" style="left:584.65px;top:242.1px;width:3.35px"></i>
<i class="bn" style="left:628.16px;top:242.1px;width:6.84px"></i>
<i class="bp" style="left:687.6px;top:242.1px;width:9.1px"></i>
<i class="bp" style="left:735.9px;top:242.1px;width:5.4px"></i>
<div class="v" style="left:559px;top:241.3px">-2.5%</div>
<div class="v" style="left:606px;top:241.3px">-6.5%</div>
<div class="v" style="left:654px;top:241.3px">13%</div>
<div class="v" style="left:700.3px;top:241.3px">9%</div>
<div class="v" style="left:746.8px;top:241.3px">44%</div>
<div class="v" style="left:793.8px;top:241.3px">16%</div>
<div class="n" style="left:500.4px;top:256.79px"><span class="d">IT</span>服务<span class="r">Ⅱ</span></div>
<i class="bs" style="left:587.4px;top:257.59px;width:1px;opacity:0.39"></i>
<i class="bn" style="left:631.41px;top:257.59px;width:3.59px"></i>
<i class="bp" style="left:687.6px;top:257.59px;width:7.7px"></i>
<i class="bp" style="left:735.9px;top:257.59px;width:7.2px"></i>
<div class="v" style="left:559px;top:256.79px">0.7%</div>
<div class="v" style="left:606px;top:256.79px">-3.0%</div>
<div class="v" style="left:654px;top:256.79px">11%</div>
<div class="v" style="left:700.3px;top:256.79px">12%</div>
<div class="v" style="left:746.8px;top:256.79px">63%</div>
<div class="v" style="left:793.8px;top:256.79px">6%</div>
<div class="n" style="left:500.4px;top:272.28px">软件开发</div>
<i class="bn" style="left:630.2px;top:273.08px;width:4.8px"></i>
<i class="bp" style="left:687.6px;top:273.08px;width:9.1px"></i>
<i class="bp" style="left:735.9px;top:273.08px;width:7.2px"></i>
<div class="v" style="left:559px;top:272.28px">0.1%</div>
<div class="v" style="left:606px;top:272.28px">-4.3%</div>
<div class="v" style="left:654px;top:272.28px">13%</div>
<div class="v" style="left:700.3px;top:272.28px">12%</div>
<div class="v" style="left:746.8px;top:272.28px">59%</div>
<div class="v" style="left:793.8px;top:272.28px">10%</div>
<div class="n" style="left:500.4px;top:287.77px">医疗服务</div>
<i class="gr" style="left:809.6px;top:287.77px;width:46.8px"></i>
<i class="bs" style="left:587.4px;top:288.57px;width:1px;opacity:0.50"></i>
<i class="bn" style="left:631.13px;top:288.57px;width:3.87px"></i>
<i class="bp" style="left:687.6px;top:288.57px;width:16.1px"></i>
<i class="bp" style="left:735.9px;top:288.57px;width:10.8px"></i>
<div class="v" style="left:559px;top:287.77px">0.9%</div>
<div class="v" style="left:606px;top:287.77px">-3.3%</div>
<div class="v" style="left:654px;top:287.77px">23%</div>
<div class="v" style="left:700.3px;top:287.77px">18%</div>
<div class="v" style="left:746.8px;top:287.77px">51%</div>
<div class="v gt" style="left:793.8px;top:287.77px">1%</div>
<div class="n" style="left:500.4px;top:303.26px">航天装备<span class="r">Ⅱ</span></div>
<i class="gr" style="left:809.6px;top:303.26px;width:46.8px"></i>
<i class="bn" style="left:620.34px;top:304.06px;width:14.66px"></i>
<i class="bp" style="left:687.6px;top:304.06px;width:9.8px"></i>
<i class="bp" style="left:735.9px;top:304.06px;width:7.2px"></i>
<div class="v" style="left:559px;top:303.26px">-0.1%</div>
<div class="v" style="left:606px;top:303.26px">-14.9%</div>
<div class="v" style="left:654px;top:303.26px">14%</div>
<div class="v" style="left:700.3px;top:303.26px">12%</div>
<div class="v" style="left:746.8px;top:303.26px">50%</div>
<div class="v gt" style="left:793.8px;top:303.26px">1%</div>
<div class="n" style="left:500.4px;top:318.75px">汽车零部件</div>
<i class="gr" style="left:809.6px;top:318.75px;width:46.8px"></i>
<i class="bs" style="left:587.4px;top:319.55px;width:1.51px;opacity:0.95"></i>
<i class="bn" style="left:627.32px;top:319.55px;width:7.68px"></i>
<i class="bp" style="left:687.6px;top:319.55px;width:6.3px"></i>
<i class="bp" style="left:735.9px;top:319.55px;width:7.2px"></i>
<div class="v" style="left:559px;top:318.75px">1.7%</div>
<div class="v" style="left:606px;top:318.75px">-7.4%</div>
<div class="v" style="left:654px;top:318.75px">9%</div>
<div class="v" style="left:700.3px;top:318.75px">12%</div>
<div class="v" style="left:746.8px;top:318.75px">56%</div>
<div class="v gt" style="left:793.8px;top:318.75px">5%</div>
<div class="n" style="left:500.4px;top:334.24px">工业金属</div>
<i class="gr" style="left:762.6px;top:334.24px;width:47px"></i>
<i class="gr" style="left:809.6px;top:334.24px;width:46.8px"></i>
<i class="bp" style="left:587.4px;top:335.04px;width:21.09px"></i>
<i class="bs" style="left:634.2px;top:335.04px;width:1px;opacity:0.52"></i>
<i class="bn" style="left:683.4px;top:335.04px;width:5.6px"></i>
<i class="bp" style="left:735.9px;top:335.04px;width:20.4px"></i>
<div class="v" style="left:559px;top:334.24px">23.7%</div>
<div class="v" style="left:606px;top:334.24px">0.8%</div>
<div class="v" style="left:654px;top:334.24px">-6%</div>
<div class="v" style="left:700.3px;top:334.24px">34%</div>
<div class="v gt" style="left:746.8px;top:334.24px">99%</div>
<div class="v gt" style="left:793.8px;top:334.24px">1%</div>
<div class="n" style="left:500.4px;top:349.73px">小金属</div>
<i class="gr" style="left:762.6px;top:349.73px;width:47px"></i>
<i class="gr" style="left:809.6px;top:349.73px;width:46.8px"></i>
<i class="bp" style="left:587.4px;top:350.53px;width:11.21px"></i>
<i class="bn" style="left:627.6px;top:350.53px;width:7.4px"></i>
<i class="bp" style="left:687.6px;top:350.53px;width:4.9px"></i>
<i class="bp" style="left:735.9px;top:350.53px;width:15.6px"></i>
<div class="v" style="left:559px;top:349.73px">12.6%</div>
<div class="v" style="left:606px;top:349.73px">-7.1%</div>
<div class="v" style="left:654px;top:349.73px">7%</div>
<div class="v" style="left:700.3px;top:349.73px">26%</div>
<div class="v gt" style="left:746.8px;top:349.73px">89%</div>
<div class="v gt" style="left:793.8px;top:349.73px">2%</div>
<div class="n" style="left:500.4px;top:365.22px">贵金属</div>
<i class="gr" style="left:762.6px;top:365.22px;width:47px"></i>
<i class="gr" style="left:809.6px;top:365.22px;width:46.8px"></i>
<i class="bp" style="left:587.4px;top:366.02px;width:32.22px"></i>
<i class="bp" style="left:634.2px;top:366.02px;width:7.7px"></i>
<i class="bn" style="left:673.6px;top:366.02px;width:15.4px"></i>
<i class="bp" style="left:735.9px;top:366.02px;width:25.8px"></i>
<div class="v" style="left:559px;top:365.22px">36.2%</div>
<div class="v" style="left:606px;top:365.22px">7.4%</div>
<div class="v" style="left:654px;top:365.22px">-20%</div>
<div class="v" style="left:700.3px;top:365.22px">43%</div>
<div class="v gt" style="left:746.8px;top:365.22px">100%</div>
<div class="v gt" style="left:793.8px;top:365.22px">0%</div>
<div class="n" style="left:500.4px;top:380.71px">能源金属</div>
<i class="bs" style="left:587.4px;top:381.51px;width:3.03px;opacity:1.00"></i>
<i class="bn" style="left:626.11px;top:381.51px;width:8.89px"></i>
<i class="bp" style="left:687.6px;top:381.51px;width:10.5px"></i>
<i class="bp" style="left:735.9px;top:381.51px;width:12px"></i>
<div class="v" style="left:559px;top:380.71px">3.4%</div>
<div class="v" style="left:606px;top:380.71px">-8.7%</div>
<div class="v" style="left:654px;top:380.71px">15%</div>
<div class="v" style="left:700.3px;top:380.71px">20%</div>
<div class="v" style="left:746.8px;top:380.71px">67%</div>
<div class="v" style="left:793.8px;top:380.71px">16%</div>
<div class="n" style="left:500.4px;top:396.2px">半导体</div>
<i class="gr" style="left:762.6px;top:396.2px;width:47px"></i>
<i class="bp" style="left:587.4px;top:397px;width:6.59px"></i>
<i class="bn" style="left:630.11px;top:397px;width:4.89px"></i>
<i class="bp" style="left:687.6px;top:397px;width:5.6px"></i>
<i class="bp" style="left:735.9px;top:397px;width:12px"></i>
<div class="v" style="left:559px;top:396.2px">7.4%</div>
<div class="v" style="left:606px;top:396.2px">-4.4%</div>
<div class="v" style="left:654px;top:396.2px">8%</div>
<div class="v" style="left:700.3px;top:396.2px">20%</div>
<div class="v gt" style="left:746.8px;top:396.2px">83%</div>
<div class="v" style="left:793.8px;top:396.2px">20%</div>
<div class="n" style="left:500.4px;top:411.69px">电子化学品<span class="r">Ⅱ</span></div>
<i class="gr" style="left:809.6px;top:411.69px;width:46.8px"></i>
<i class="bs" style="left:587.4px;top:412.49px;width:1px;opacity:0.56"></i>
<i class="bn" style="left:626.3px;top:412.49px;width:8.7px"></i>
<i class="bp" style="left:687.6px;top:412.49px;width:7.7px"></i>
<i class="bp" style="left:735.9px;top:412.49px;width:7.2px"></i>
<div class="v" style="left:559px;top:411.69px">1.0%</div>
<div class="v" style="left:606px;top:411.69px">-8.5%</div>
<div class="v" style="left:654px;top:411.69px">11%</div>
<div class="v" style="left:700.3px;top:411.69px">12%</div>
<div class="v" style="left:746.8px;top:411.69px">61%</div>
<div class="v gt" style="left:793.8px;top:411.69px">4%</div>
<div class="n" style="left:500.4px;top:427.18px">元件</div>
<i class="bn" style="left:628.9px;top:427.98px;width:6.1px"></i>
<i class="bp" style="left:687.6px;top:427.98px;width:9.8px"></i>
<i class="bp" style="left:735.9px;top:427.98px;width:7.8px"></i>
<div class="v" style="left:559px;top:427.18px">0.1%</div>
<div class="v" style="left:606px;top:427.18px">-5.7%</div>
<div class="v" style="left:654px;top:427.18px">14%</div>
<div class="v" style="left:700.3px;top:427.18px">13%</div>
<div class="v" style="left:746.8px;top:427.18px">45%</div>
<div class="v" style="left:793.8px;top:427.18px">7%</div>
<div class="n" style="left:500.4px;top:442.67px">通信设备</div>
<i class="gr" style="left:809.6px;top:442.67px;width:46.8px"></i>
<i class="bp" style="left:587.4px;top:443.47px;width:4.27px"></i>
<i class="bs" style="left:634.2px;top:443.47px;width:2.91px;opacity:1.00"></i>
<i class="bp" style="left:687.6px;top:443.47px;width:7px"></i>
<i class="bp" style="left:735.9px;top:443.47px;width:9px"></i>
<div class="v" style="left:559px;top:442.67px">4.8%</div>
<div class="v" style="left:606px;top:442.67px">2.8%</div>
<div class="v" style="left:654px;top:442.67px">10%</div>
<div class="v" style="left:700.3px;top:442.67px">15%</div>
<div class="v" style="left:746.8px;top:442.67px">74%</div>
<div class="v gt" style="left:793.8px;top:442.67px">1%</div>
<div class="n" style="left:500.4px;top:458.16px">化学纤维</div>
<i class="gr" style="left:762.6px;top:458.16px;width:47px"></i>
<i class="gr" style="left:809.6px;top:458.16px;width:46.8px"></i>
<i class="bp" style="left:587.4px;top:458.96px;width:9.43px"></i>
<i class="bn" style="left:629.09px;top:458.96px;width:5.91px"></i>
<i class="bp" style="left:687.6px;top:458.96px;width:5.6px"></i>
<i class="bp" style="left:735.9px;top:458.96px;width:13.8px"></i>
<div class="v" style="left:559px;top:458.16px">10.6%</div>
<div class="v" style="left:606px;top:458.16px">-5.5%</div>
<div class="v" style="left:654px;top:458.16px">8%</div>
<div class="v" style="left:700.3px;top:458.16px">23%</div>
<div class="v gt" style="left:746.8px;top:458.16px">87%</div>
<div class="v gt" style="left:793.8px;top:458.16px">1%</div>
<div class="n" style="left:500.4px;top:473.65px">化学原料</div>
<i class="gr" style="left:762.6px;top:473.65px;width:47px"></i>
<i class="bp" style="left:587.4px;top:474.45px;width:13.97px"></i>
<i class="bt" style="left:634px;top:474.45px;width:1px;opacity:1.00"></i>
<i class="bn" style="left:685.5px;top:474.45px;width:3.5px"></i>
<i class="bp" style="left:735.9px;top:474.45px;width:16.8px"></i>
<div class="v" style="left:559px;top:473.65px">15.7%</div>
<div class="v" style="left:606px;top:473.65px">-1.2%</div>
<div class="v" style="left:654px;top:473.65px">-3%</div>
<div class="v" style="left:700.3px;top:473.65px">28%</div>
<div class="v gt" style="left:746.8px;top:473.65px">97%</div>
<div class="v" style="left:793.8px;top:473.65px">25%</div>
<div class="n" style="left:500.4px;top:489.14px">化学制品</div>
<i class="gr" style="left:762.6px;top:489.14px;width:47px"></i>
<i class="gr" style="left:809.6px;top:489.14px;width:46.8px"></i>
<i class="bp" style="left:587.4px;top:489.94px;width:7.12px"></i>
<i class="bn" style="left:631.22px;top:489.94px;width:3.78px"></i>
<i class="bp" style="left:687.6px;top:489.94px;width:3.5px"></i>
<i class="bp" style="left:735.9px;top:489.94px;width:10.8px"></i>
<div class="v" style="left:559px;top:489.14px">8.0%</div>
<div class="v" style="left:606px;top:489.14px">-3.2%</div>
<div class="v" style="left:654px;top:489.14px">5%</div>
<div class="v" style="left:700.3px;top:489.14px">18%</div>
<div class="v gt" style="left:746.8px;top:489.14px">84%</div>
<div class="v gt" style="left:793.8px;top:489.14px">3%</div>
<div class="g" style="left:450.4px;top:350.83px;height:15.49px;line-height:15.49px">主题重点</div>
<div class="g" style="left:450.4px;top:366.32px;height:15.49px;line-height:15.49px">二级行业</div>
<div id="vl"></div>
<div id="bl"></div>
<div id="fline"></div>
<div id="foot">资料来源：Wind，申万宏源研究</div>
</body>
</html>
